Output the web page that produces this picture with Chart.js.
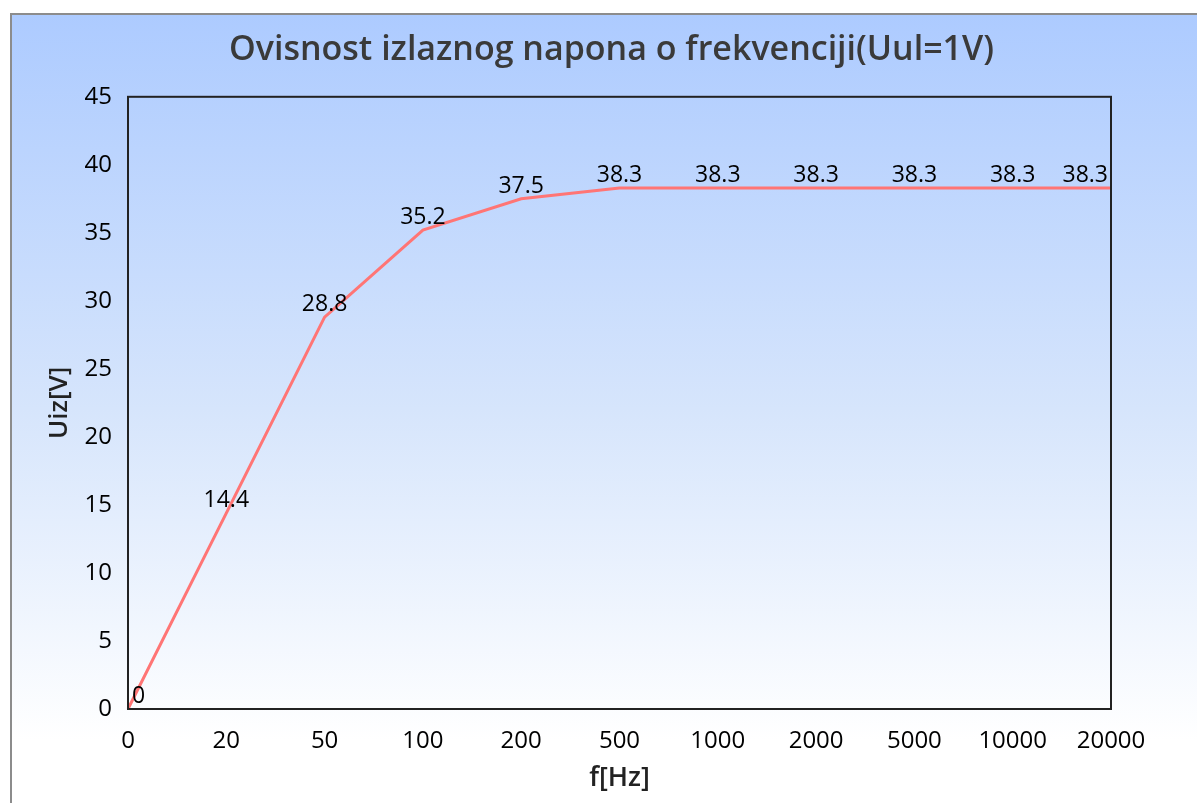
<!DOCTYPE html>
<html>
<head>
<meta charset="utf-8">
<script src="https://cdn.jsdelivr.net/npm/chart.js@4.4.0/dist/chart.umd.min.js"></script>
<style>
  body { margin: 0; background: #fff; }
  #box {
    position: absolute; left: 10px; top: 13px; width: 1187px; height: 790px;
    border-top: 2px solid #8c8c8c; border-left: 2px solid #8c8c8c;
    box-sizing: border-box;
    background: linear-gradient(to bottom, #adcbff 0%, #d6e5fc 50%, #ffffff 92%);
  }
</style>
</head>
<body>
<div id="box"><canvas id="myChart" width="1185" height="788"></canvas></div>
<script>
const titleText = "Ovisnost izlaznog napona o frekvenciji(Uul=1V)";
const frequencies = ["0", "20", "50", "100", "200", "500", "1000", "2000", "5000", "10000", "20000"];
const voltages = [0, 14.4, 28.8, 35.2, 37.5, 38.3, 38.3, 38.3, 38.3, 38.3, 38.3];
const yTicks = [0, 5, 10, 15, 20, 25, 30, 35, 40, 45];

const fontFam = "'Open Sans', 'Noto Sans', sans-serif";

// frame around plot + value labels kept inside the plot
const plotExtras = {
    id: "plotExtras",
    afterDatasetsDraw(chart) {
        const c = chart.ctx;
        const a = chart.chartArea;
        const meta = chart.getDatasetMeta(0);
        c.save();
        c.font = "23px " + fontFam;
        c.fillStyle = "#000";
        c.textBaseline = "alphabetic";
        meta.data.forEach(function (pt, i) {
            const txt = String(voltages[i]);
            const w = c.measureText(txt).width;
            let x = pt.x - w / 2;
            if (x < a.left + 4) x = a.left + 4;
            if (x + w > a.right - 3) x = a.right - 3 - w;
            c.fillText(txt, x, pt.y - 6);
        });
        c.strokeStyle = "#222";
        c.lineWidth = 2;
        c.strokeRect(a.left, a.top, a.right - a.left, a.bottom - a.top);
        c.restore();
    }
};

const ctx = document.getElementById("myChart").getContext("2d");

new Chart(ctx, {
    type: "line",
    data: {
        labels: frequencies,
        datasets: [{
            data: voltages,
            borderColor: "#ff7575",
            borderWidth: 3,
            pointRadius: 0,
            fill: false,
            tension: 0
        }]
    },
    options: {
        responsive: false,
        animation: false,
        layout: { padding: { left: 14, right: 0, top: 0, bottom: 0 } },
        plugins: {
            legend: { display: false },
            tooltip: { enabled: false },
            title: {
                display: true,
                text: titleText,
                color: "#3a3a3a",
                font: { family: fontFam, size: 34, weight: "600" },
                padding: { top: 15, bottom: 26 }
            }
        },
        scales: {
            x: {
                offset: false,
                grid: { display: false },
                border: { display: false },
                ticks: { color: "#000", font: { family: fontFam, size: 24 }, padding: 10, maxRotation: 0, autoSkip: false },
                title: { display: true, text: "f[Hz]", color: "#222", font: { family: fontFam, size: 27, weight: "600" }, padding: { top: 4, bottom: 8 } },
                afterFit(s) { s.height = 94; }
            },
            y: {
                min: 0,
                max: 45,
                grid: { display: false },
                border: { display: false },
                afterBuildTicks(s) { s.ticks = yTicks.map(v => ({ value: v })); },
                ticks: { color: "#000", font: { family: fontFam, size: 24 }, padding: 8 },
                title: { display: true, text: "Uiz[V]", color: "#222", font: { family: fontFam, size: 26, weight: "600" }, padding: { top: 18, bottom: 4 } },
                afterFit(s) { s.width = 102; }
            },
            yRight: {
                position: "right",
                grid: { display: false },
                border: { display: false },
                ticks: { display: false },
                afterFit(s) { s.width = 86; }
            }
        }
    },
    plugins: [plotExtras]
});
</script>
</body>
</html>
